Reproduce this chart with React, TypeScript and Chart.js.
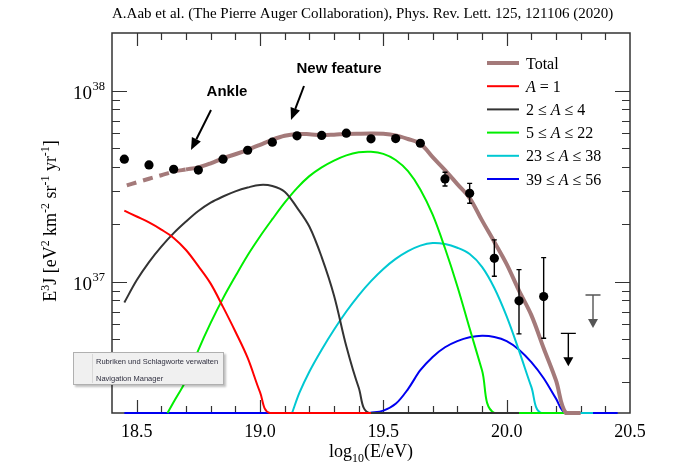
import React, { useEffect, useRef } from 'react';
import { Chart, registerables } from 'chart.js';

Chart.register(...registerables);

// ---------- axis ranges ----------
const X_MIN = 18.4;
const X_MAX = 20.5;
const Y_MIN = 2.06e36;
const Y_MAX = 2.01e38;
const FLOOR = Y_MIN; // curves that vanish lie on the bottom axis

const Y_TICKS = [3e36, 4e36, 5e36, 6e36, 7e36, 8e36, 9e36, 1e37, 2e37, 3e37, 4e37, 5e37, 6e37, 7e37, 8e37, 9e37, 1e38];

// ---------- measured data ----------
const E_DATA = [18.45, 18.55, 18.65, 18.75, 18.85, 18.95, 19.05, 19.15, 19.25, 19.35, 19.45, 19.55, 19.65, 19.75, 19.85, 19.95, 20.05, 20.15];
const FLUX_DATA = [4.39e37, 4.1e37, 3.89e37, 3.85e37, 4.39e37, 4.89e37, 5.39e37, 5.82e37, 5.85e37, 6.01e37, 5.61e37, 5.63e37, 5.32e37, 3.46e37, 2.91e37, 1.33e37, 7.96e36, 8.38e36];
const FLUX_HI = [4.45e37, 4.16e37, 3.95e37, 3.91e37, 4.46e37, 4.96e37, 5.47e37, 5.9e37, 5.94e37, 6.1e37, 5.72e37, 5.75e37, 5.55e37, 3.75e37, 3.28e37, 1.66e37, 1.16e37, 1.34e37];
const FLUX_LO = [4.33e37, 4.04e37, 3.83e37, 3.79e37, 4.32e37, 4.82e37, 5.31e37, 5.74e37, 5.76e37, 5.92e37, 5.5e37, 5.51e37, 5.1e37, 3.18e37, 2.58e37, 1.07e37, 5.35e36, 5.07e36];

const LIMIT_E = [20.25, 20.35];
const LIMIT_FLUX = [5.38e36, 8.55e36];

// ---------- model curves ----------
const TOTAL_E = [18.46, 18.5, 18.55, 18.6, 18.65, 18.7, 18.75, 18.8, 18.85, 18.9, 18.95, 19.0, 19.05, 19.1, 19.15, 19.2, 19.25, 19.3, 19.35, 19.4, 19.45, 19.5, 19.55, 19.6, 19.65, 19.7, 19.75, 19.8, 19.85, 19.9, 19.95, 20.0, 20.05, 20.1, 20.15, 20.2, 20.24, 20.3];
const TOTAL_FLUX = [3.2e37, 3.32e37, 3.47e37, 3.62e37, 3.78e37, 3.88e37, 3.98e37, 4.18e37, 4.44e37, 4.66e37, 4.92e37, 5.22e37, 5.55e37, 5.82e37, 5.95e37, 5.93e37, 5.87e37, 5.9e37, 5.95e37, 5.97e37, 5.98e37, 5.96e37, 5.85e37, 5.6e37, 5.3e37, 4.5e37, 3.85e37, 3.25e37, 2.75e37, 2.1e37, 1.62e37, 1.24e37, 9.0e36, 6.7e36, 4.5e36, 3.05e36, FLOOR, FLOOR];
const TOTAL_DASH_END = 18.7;

const RED_E = [18.45, 18.5, 18.55, 18.6, 18.65, 18.7, 18.75, 18.8, 18.85, 18.9, 18.95, 19.0, 19.04, 19.45];
const RED_FLUX = [2.36e37, 2.2e37, 2.05e37, 1.88e37, 1.7e37, 1.47e37, 1.21e37, 9.8e36, 7.4e36, 5.5e36, 4.0e36, 2.65e36, FLOOR, FLOOR];

const BLACK_E = [18.45, 18.5, 18.55, 18.6, 18.65, 18.7, 18.75, 18.8, 18.85, 18.9, 18.95, 19.0, 19.05, 19.1, 19.15, 19.2, 19.25, 19.3, 19.35, 19.4, 19.445, 20.05];
const BLACK_FLUX = [7.8e36, 1.02e37, 1.27e37, 1.53e37, 1.8e37, 2.07e37, 2.35e37, 2.6e37, 2.8e37, 2.98e37, 3.12e37, 3.22e37, 3.18e37, 2.97e37, 2.45e37, 1.95e37, 1.35e37, 8.5e36, 4.6e36, 2.8e36, FLOOR, FLOOR];

const GREEN_E = [18.625, 18.65, 18.7, 18.75, 18.8, 18.85, 18.9, 18.95, 19.0, 19.05, 19.1, 19.15, 19.2, 19.25, 19.3, 19.35, 19.4, 19.45, 19.5, 19.55, 19.6, 19.65, 19.7, 19.75, 19.8, 19.85, 19.9, 19.95, 20.25];
const GREEN_FLUX = [FLOOR, 2.35e36, 3.05e36, 4.4e36, 6.1e36, 8.2e36, 1.07e37, 1.38e37, 1.73e37, 2.13e37, 2.6e37, 3.1e37, 3.58e37, 3.98e37, 4.32e37, 4.6e37, 4.77e37, 4.8e37, 4.68e37, 4.35e37, 3.8e37, 3.05e37, 2.25e37, 1.5e37, 9.5e36, 5.7e36, 3.45e36, FLOOR, FLOOR];

const CYAN_E = [19.13, 19.16, 19.2, 19.25, 19.3, 19.35, 19.4, 19.45, 19.5, 19.55, 19.6, 19.65, 19.7, 19.75, 19.8, 19.85, 19.9, 19.95, 20.0, 20.05, 20.1, 20.14, 20.35];
const CYAN_FLUX = [FLOOR, 2.63e36, 3.39e36, 4.42e36, 5.62e36, 7.0e36, 8.51e36, 1.01e37, 1.17e37, 1.32e37, 1.45e37, 1.55e37, 1.6e37, 1.58e37, 1.51e37, 1.4e37, 1.2e37, 9.3e36, 6.6e36, 4.37e36, 2.82e36, FLOOR, FLOOR];

const BLUE_E = [18.45, 19.35, 19.4, 19.445, 19.5, 19.55, 19.6, 19.65, 19.7, 19.75, 19.8, 19.85, 19.9, 19.95, 20.0, 20.05, 20.1, 20.15, 20.2, 20.24, 20.45];
const BLUE_FLUX = [FLOOR, FLOOR, null, FLOOR, 2.12e36, 2.3e36, 2.75e36, 3.45e36, 4.05e36, 4.55e36, 4.9e36, 5.13e36, 5.22e36, 5.15e36, 4.9e36, 4.42e36, 3.8e36, 3.13e36, 2.45e36, FLOOR, FLOOR];

const TITLE = 'A.Aab et al. (The Pierre Auger Collaboration), Phys. Rev. Lett. 125, 121106 (2020)';
const ANNOTATIONS = ['Ankle', 'New feature'];
const MENU_ITEMS = ['Rubriken und Schlagworte verwalten', 'Navigation Manager'];

// ---------- styles ----------
const SERIF = '"Liberation Serif", "Times New Roman", serif';
const SANS = '"Liberation Sans", Arial, sans-serif';
const C_TOTAL = '#a47a7a';
const C_RED = '#ff0000';
const C_BLACK = '#333333';
const C_GREEN = '#00ee00';
const C_CYAN = '#00c8d2';
const C_BLUE = '#0000f0';

type Seg = { t: string; sup?: boolean; sub?: boolean; it?: boolean };

const LEGEND: { color: string; width: number; segs: Seg[] }[] = [
  { color: C_TOTAL, width: 4, segs: [{ t: 'Total' }] },
  { color: C_RED, width: 2, segs: [{ t: 'A', it: true }, { t: ' = 1' }] },
  { color: C_BLACK, width: 2, segs: [{ t: '2 \u2264 ' }, { t: 'A', it: true }, { t: ' \u2264 4' }] },
  { color: C_GREEN, width: 2, segs: [{ t: '5 \u2264 ' }, { t: 'A', it: true }, { t: ' \u2264 22' }] },
  { color: C_CYAN, width: 2, segs: [{ t: '23 \u2264 ' }, { t: 'A', it: true }, { t: ' \u2264 38' }] },
  { color: C_BLUE, width: 2, segs: [{ t: '39 \u2264 ' }, { t: 'A', it: true }, { t: ' \u2264 56' }] },
];

const Y_TITLE: Seg[] = [
  { t: 'E' }, { t: '3', sup: true }, { t: 'J [eV' }, { t: '2', sup: true }, { t: ' km' }, { t: '-2', sup: true },
  { t: ' sr' }, { t: '-1', sup: true }, { t: ' yr' }, { t: '-1', sup: true }, { t: ']' },
];
const X_TITLE: Seg[] = [{ t: 'log' }, { t: '10', sub: true }, { t: '(E/eV)' }];

function zip(xs: number[], ys: (number | null)[]) {
  return xs.map((x, i) => ({ x, y: ys[i] }));
}

function segFont(s: Seg, size: number, family: string) {
  const sz = s.sup || s.sub ? size * 0.66 : size;
  return `${s.it ? 'italic ' : ''}${sz}px ${family}`;
}

function drawRich(ctx: CanvasRenderingContext2D, segs: Seg[], x: number, y: number, size: number, family: string, align: 'left' | 'center') {
  ctx.textAlign = 'left';
  ctx.textBaseline = 'alphabetic';
  let w = 0;
  for (const s of segs) {
    ctx.font = segFont(s, size, family);
    w += ctx.measureText(s.t).width;
  }
  let cx = align === 'center' ? x - w / 2 : x;
  for (const s of segs) {
    ctx.font = segFont(s, size, family);
    const dy = s.sup ? -size * 0.4 : s.sub ? size * 0.3 : 0;
    ctx.fillText(s.t, cx, y + dy);
    cx += ctx.measureText(s.t).width;
  }
}

function arrow(ctx: CanvasRenderingContext2D, x0: number, y0: number, x1: number, y1: number) {
  const ang = Math.atan2(y1 - y0, x1 - x0);
  const hl = 12;
  const hw = 5;
  const bx = x1 - hl * Math.cos(ang);
  const by = y1 - hl * Math.sin(ang);
  ctx.beginPath();
  ctx.moveTo(x0, y0);
  ctx.lineTo(bx, by);
  ctx.lineWidth = 2;
  ctx.strokeStyle = '#000';
  ctx.stroke();
  ctx.beginPath();
  ctx.moveTo(x1, y1);
  ctx.lineTo(bx + hw * Math.sin(ang), by - hw * Math.cos(ang));
  ctx.lineTo(bx - hw * Math.sin(ang), by + hw * Math.cos(ang));
  ctx.closePath();
  ctx.fillStyle = '#000';
  ctx.fill();
}

const isHalf = (v: number) => Math.abs(v * 2 - Math.round(v * 2)) < 1e-6;
const isDecade = (v: number) => Math.abs(Math.log10(v) - Math.round(Math.log10(v))) < 1e-9;

const decorPlugin = {
  id: 'decor',
  beforeDatasetsDraw(chart: any) {
    const { ctx, chartArea: a, scales } = chart;
    const xs = scales.x;
    const ys = scales.y;
    ctx.save();
    ctx.strokeStyle = '#333';
    ctx.lineWidth = 1.2;
    ctx.beginPath();
    for (const t of xs.ticks) {
      if (t.value <= xs.min + 1e-6 || t.value >= xs.max - 1e-6) continue;
      const px = Math.round(xs.getPixelForValue(t.value)) + 0.5;
      const len = isHalf(t.value) ? 13 : 7;
      ctx.moveTo(px, a.bottom);
      ctx.lineTo(px, a.bottom - len);
      ctx.moveTo(px, a.top);
      ctx.lineTo(px, a.top + len);
    }
    for (const t of ys.ticks) {
      const py = Math.round(ys.getPixelForValue(t.value)) + 0.5;
      const len = isDecade(t.value) ? 15 : 8;
      ctx.moveTo(a.left, py);
      ctx.lineTo(a.left + len, py);
      ctx.moveTo(a.right, py);
      ctx.lineTo(a.right - len, py);
    }
    ctx.stroke();
    ctx.lineWidth = 1.5;
    ctx.strokeRect(a.left, a.top, a.right - a.left, a.bottom - a.top);
    ctx.restore();
  },
  afterDatasetsDraw(chart: any) {
    const { ctx, scales } = chart;
    const xs = scales.x;
    const ys = scales.y;
    ctx.save();
    // error bars
    ctx.strokeStyle = '#000';
    ctx.lineWidth = 1.4;
    E_DATA.forEach((e, i) => {
      const px = xs.getPixelForValue(e);
      const yh = ys.getPixelForValue(FLUX_HI[i]);
      const yl = ys.getPixelForValue(FLUX_LO[i]);
      if (yl - yh < 9) return;
      ctx.beginPath();
      ctx.moveTo(px, yh);
      ctx.lineTo(px, yl);
      ctx.moveTo(px - 2.5, yh);
      ctx.lineTo(px + 2.5, yh);
      ctx.moveTo(px - 2.5, yl);
      ctx.lineTo(px + 2.5, yl);
      ctx.stroke();
    });
    // upper limits
    LIMIT_E.forEach((e, i) => {
      const px = xs.getPixelForValue(e);
      const py = ys.getPixelForValue(LIMIT_FLUX[i]);
      const col = i === 0 ? '#000' : '#555';
      ctx.strokeStyle = col;
      ctx.fillStyle = col;
      ctx.lineWidth = 1.4;
      ctx.beginPath();
      ctx.moveTo(px - 7.5, py);
      ctx.lineTo(px + 7.5, py);
      ctx.moveTo(px, py);
      ctx.lineTo(px, py + 25);
      ctx.stroke();
      ctx.beginPath();
      ctx.moveTo(px - 5, py + 24);
      ctx.lineTo(px + 5, py + 24);
      ctx.lineTo(px, py + 33);
      ctx.closePath();
      ctx.fill();
    });
    ctx.restore();
  },
  afterDraw(chart: any) {
    const { ctx, chartArea: a, scales } = chart;
    const ys = scales.y;
    ctx.save();
    ctx.fillStyle = '#000';
    // title
    ctx.font = `15px ${SERIF}`;
    ctx.textAlign = 'left';
    ctx.textBaseline = 'alphabetic';
    ctx.fillText(TITLE, a.left, 18);
    // y tick labels (powers of ten)
    for (const t of ys.ticks) {
      if (!isDecade(t.value)) continue;
      const py = ys.getPixelForValue(t.value);
      const exp = String(Math.round(Math.log10(t.value)));
      ctx.font = `19px ${SERIF}`;
      ctx.textAlign = 'right';
      ctx.fillText('10', a.left - 20, py + 8);
      ctx.font = `12.5px ${SERIF}`;
      ctx.textAlign = 'left';
      ctx.fillText(exp, a.left - 19.5, py - 1);
    }
    // axis titles
    drawRich(ctx, X_TITLE, (a.left + a.right) / 2, 457, 18, SERIF, 'center');
    ctx.save();
    ctx.translate(56, (a.top + a.bottom) / 2 - 2);
    ctx.rotate(-Math.PI / 2);
    drawRich(ctx, Y_TITLE, 0, 0, 18, SERIF, 'center');
    ctx.restore();
    // legend
    LEGEND.forEach((item, i) => {
      const cy = 63 + i * 23.2;
      ctx.strokeStyle = item.color;
      ctx.lineWidth = item.width;
      ctx.beginPath();
      ctx.moveTo(487, cy);
      ctx.lineTo(519, cy);
      ctx.stroke();
      ctx.fillStyle = '#000';
      drawRich(ctx, item.segs, 526, cy + 5.5, 16, SERIF, 'left');
    });
    // annotations
    ctx.fillStyle = '#000';
    ctx.font = `bold 15px ${SANS}`;
    ctx.textAlign = 'center';
    ctx.textBaseline = 'middle';
    ctx.fillText(ANNOTATIONS[0], 227, 92);
    ctx.fillText(ANNOTATIONS[1], 339, 69);
    arrow(ctx, 211, 110, 191, 150);
    arrow(ctx, 304, 86, 291, 120);
    ctx.restore();
  },
};

export default function App() {
  const ref = useRef<HTMLCanvasElement | null>(null);

  useEffect(() => {
    if (!ref.current) return;
    const line = (data: any[], color: string, width: number, order: number, extra: any = {}) => ({
      type: 'line',
      data,
      borderColor: color,
      backgroundColor: color,
      borderWidth: width,
      pointRadius: 0,
      fill: false,
      tension: 0.35,
      spanGaps: false,
      clip: 3,
      order,
      ...extra,
    });
    const chart = new Chart(ref.current, {
      type: 'line',
      data: {
        datasets: [
          {
            type: 'line',
            data: zip(E_DATA, FLUX_DATA),
            showLine: false,
            pointRadius: 4.6,
            pointBackgroundColor: '#000',
            pointBorderWidth: 0,
            borderColor: '#000',
            order: 0,
          } as any,
          line(zip(TOTAL_E, TOTAL_FLUX), C_TOTAL, 4, 1, {
            segment: { borderDash: (c: any) => (c.p1.parsed.x <= TOTAL_DASH_END + 1e-9 ? [10, 7] : undefined) },
          }),
          line(zip(RED_E, RED_FLUX), C_RED, 2, 2),
          line(zip(BLACK_E, BLACK_FLUX), C_BLACK, 2, 3),
          line(zip(GREEN_E, GREEN_FLUX), C_GREEN, 2, 4),
          line(zip(CYAN_E, CYAN_FLUX), C_CYAN, 2, 5),
          line(zip(BLUE_E, BLUE_FLUX), C_BLUE, 2, 6),
        ],
      },
      options: {
        responsive: false,
        animation: false,
        layout: { padding: { top: 33, right: 70, left: 0, bottom: 0 } },
        plugins: { legend: { display: false }, tooltip: { enabled: false }, title: { display: false } },
        scales: {
          x: {
            type: 'linear',
            min: X_MIN,
            max: X_MAX,
            grid: { display: false, drawTicks: false },
            border: { display: false },
            ticks: {
              stepSize: 0.1,
              autoSkip: false,
              maxRotation: 0,
              padding: 8,
              color: '#000',
              font: { family: SERIF, size: 18 },
              callback: (v: any) => (isHalf(Number(v)) ? Number(v).toFixed(1) : ''),
            },
            afterFit: (s: any) => {
              s.height = 57;
            },
          },
          y: {
            type: 'logarithmic',
            min: Y_MIN,
            max: Y_MAX,
            grid: { display: false, drawTicks: false },
            border: { display: false },
            ticks: { display: false },
            afterBuildTicks: (ax: any) => {
              ax.ticks = Y_TICKS.map((v) => ({ value: v }));
            },
            afterFit: (s: any) => {
              s.width = 112;
            },
          },
        },
      } as any,
      plugins: [decorPlugin as any],
    });
    return () => chart.destroy();
  }, []);

  return (
    <div style={{ position: 'fixed', left: 0, top: 0, width: 700, height: 470, background: '#fff' }}>
      <canvas ref={ref} width={700} height={470} style={{ display: 'block' }} />
      <div
        style={{
          position: 'absolute',
          left: 73,
          top: 352,
          width: 151,
          height: 33,
          background: '#f0f0f0',
          border: '1px solid #b0b0b0',
          boxShadow: '2px 2px 2px rgba(0,0,0,0.25)',
          fontFamily: SANS,
          fontSize: 7.5,
          color: '#303040',
          boxSizing: 'border-box',
        }}
      >
        <div style={{ position: 'absolute', left: 18, top: 1, bottom: 1, borderLeft: '1px solid #d8d8d8' }} />
        <div style={{ position: 'absolute', left: 22, top: 4, whiteSpace: 'nowrap' }}>{MENU_ITEMS[0]}</div>
        <div style={{ position: 'absolute', left: 22, top: 21, whiteSpace: 'nowrap' }}>{MENU_ITEMS[1]}</div>
      </div>
    </div>
  );
}
